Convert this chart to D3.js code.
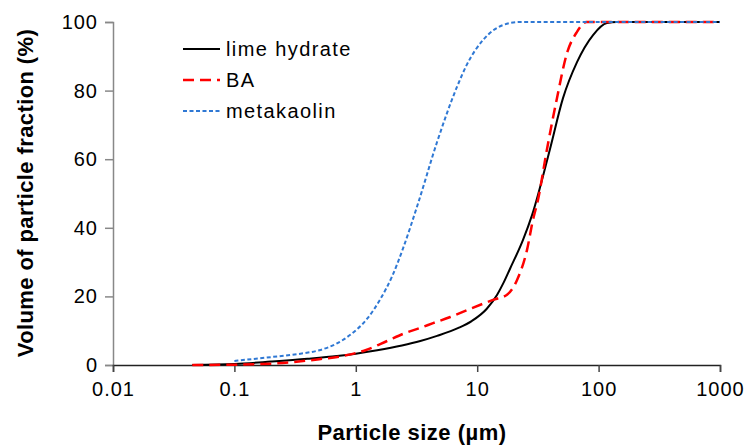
<!DOCTYPE html>
<html>
<head>
<meta charset="utf-8">
<script src="https://cdn.jsdelivr.net/npm/d3@7"></script>
<style>
  body { margin: 0; background: #fff; }
  text { font-family: "Liberation Sans", Arial, sans-serif; }
</style>
</head>
<body>
<div id="chart"></div>
<script>
// Particle size (um) / cumulative volume (%)
const limeSize = [0.045, 0.1, 0.2, 0.4, 0.7, 1, 1.5, 2.4, 3.4, 4.67, 7, 9, 12, 14.6, 16.5, 18.6, 23.8, 28.3, 39.8, 50.9, 66.4, 90, 117, 141, 1000];
const limeVol  = [0, 0.3, 1.0, 1.8, 2.6, 3.3, 4.3, 5.7, 7, 8.5, 10.8, 12.8, 16.4, 20.5, 24, 28, 36.4, 43.7, 63, 77.8, 88.3, 96.2, 99.7, 100, 100];

const baSize = [0.045, 0.08, 0.2, 0.5, 0.8, 1.2, 1.81, 2.5, 3.38, 4.33, 6, 8.24, 13.5, 17.6, 21.3, 25.7, 28.8, 31.6, 37.6, 45.4, 55, 66, 79.6, 1000];
const baVol  = [0, 0.05, 0.4, 1.7, 2.7, 4.3, 7, 9.2, 10.8, 12.2, 14, 16, 19, 20.5, 24.8, 33.5, 42.3, 48, 63, 77.8, 91, 97, 100, 100];

const mkSize = [0.1, 0.2, 0.35, 0.5, 0.7, 0.9, 1.24, 1.58, 2, 2.45, 3.25, 4.67, 6.8, 8.2, 11.2, 16.3, 22.5, 1000];
const mkVol  = [1.2, 2.3, 3.3, 4.3, 6.3, 8.8, 13.5, 19, 26, 34, 47, 65, 81, 87.5, 94.8, 99.1, 100, 100];

const xTicks = [0.01, 0.1, 1, 10, 100, 1000];
const yTicks = [0, 20, 40, 60, 80, 100];

const series = [
  { name: "lime hydrate", size: limeSize, vol: limeVol, color: "#000000", width: 2, dash: null },
  { name: "BA", size: baSize, vol: baVol, color: "#ff0000", width: 2.5, dash: "11,6" },
  { name: "metakaolin", size: mkSize, vol: mkVol, color: "#2f78d4", width: 2, dash: "4,2.5" }
];

const W = 750, H = 447;
const svg = d3.select("#chart")
  .append("svg")
    .attr("width", W)
    .attr("height", H);

const x = d3.scaleLog()
  .domain([0.01, 1000])
  .range([113, 720]);

const y = d3.scaleLinear()
  .domain([0, 100])
  .range([365, 22]);

// Y axis (grey)
const yAxis = svg.append("g")
  .attr("transform", `translate(${x(0.01)},0)`)
  .call(d3.axisLeft(y).tickValues(yTicks).tickSize(8).tickPadding(7).tickFormat(d3.format("d")));
yAxis.select(".domain").attr("stroke", "#888").attr("stroke-width", 1.5);
yAxis.selectAll(".tick line").attr("stroke", "#888").attr("stroke-width", 1.5);
yAxis.selectAll("text")
  .attr("fill", "#000")
  .style("font-size", "20px")
  .style("letter-spacing", "1px");

// X axis
const xAxis = svg.append("g")
  .attr("transform", `translate(0,${y(0)})`)
  .call(d3.axisBottom(x).tickValues(xTicks).tickSize(7).tickPadding(10).tickFormat(d => String(d)));
xAxis.select(".domain").attr("stroke", "#222").attr("stroke-width", 1.5);
xAxis.selectAll(".tick line").attr("stroke", "#444").attr("stroke-width", 1.5);
xAxis.selectAll("text")
  .attr("fill", "#000")
  .style("font-size", "20px")
  .style("letter-spacing", "1px");

// Curves
const line = d3.line()
  .x(d => x(d[0]))
  .y(d => y(d[1]))
  .curve(d3.curveMonotoneX);

series.forEach(s => {
  const pts = s.size.map((v, i) => [v, s.vol[i]]);
  svg.append("path")
    .datum(pts)
    .attr("fill", "none")
    .attr("stroke", s.color)
    .attr("stroke-width", s.width)
    .attr("stroke-dasharray", s.dash)
    .attr("d", line);
});

// Legend
const legend = svg.append("g");
series.forEach((s, i) => {
  const ly = 49 + i * 31;
  legend.append("line")
    .attr("x1", 183).attr("x2", 220)
    .attr("y1", ly).attr("y2", ly)
    .attr("stroke", s.color)
    .attr("stroke-width", s.width)
    .attr("stroke-dasharray", s.dash);
  legend.append("text")
    .attr("x", 226)
    .attr("y", ly + 7)
    .style("font-size", "20px")
    .style("letter-spacing", "1.4px")
    .text(s.name);
});

// X axis label
svg.append("text")
  .attr("x", 412)
  .attr("y", 440)
  .attr("text-anchor", "middle")
  .style("font-size", "22px")
  .style("font-weight", "bold")
  .style("letter-spacing", "0.5px")
  .text("Particle size (µm)");

// Y axis label
svg.append("text")
  .attr("transform", "rotate(-90)")
  .attr("x", -193)
  .attr("y", 33)
  .attr("text-anchor", "middle")
  .style("font-size", "22px")
  .style("font-weight", "bold")
  .style("letter-spacing", "0.4px")
  .text("Volume of particle fraction (%)");
</script>
</body>
</html>
